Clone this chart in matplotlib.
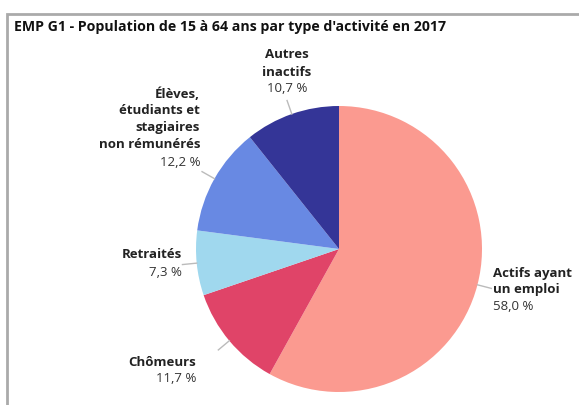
import matplotlib
matplotlib.use("Agg")
import matplotlib.pyplot as plt
import numpy as np
from matplotlib.patches import Rectangle

title = "EMP G1 - Population de 15 à 64 ans par type d'activité en 2017"
categories = [["Actifs ayant", "un emploi"], ["Chômeurs"], ["Retraités"],
              ["Élèves,", "étudiants et", "stagiaires", "non rémunérés"],
              ["Autres", "inactifs"]]
values = [58.0, 11.7, 7.3, 12.2, 10.7]
value_labels = ["58,0 %", "11,7 %", "7,3 %", "12,2 %", "10,7 %"]
colors = ["#FB9A90", "#E04468", "#A0D8EE", "#6889E3", "#343597"]

plt.rcParams['font.family'] = ['Open Sans', 'DejaVu Sans']

W, H = 579, 405
fig = plt.figure(figsize=(W / 100, H / 100), dpi=100)
ax = fig.add_axes([0, 0, 1, 1])
cx, cy, R = 339, 249, 143

wedges, _ = ax.pie(values, colors=colors, startangle=90, counterclock=False,
                   radius=1, center=(0, 0), frame=True,
                   wedgeprops=dict(linewidth=0))
ax.set_xlim(-cx / R, (W - cx) / R)
ax.set_ylim(-(H - cy) / R, cy / R)
ax.set_aspect('equal')
ax.axis('off')

# frame border (left and top)
fig.patches.append(Rectangle((7 / W, -0.1), 1.2, (H - 14) / H + 0.1,
                             transform=fig.transFigure, fill=False,
                             edgecolor="#AAAAAA", linewidth=2))
fig.text(14 / W, 1 - 27 / H, title, fontsize=10.2, fontweight='bold',
         va='center', ha='left', color='#111111')

# label layout: (text x, first line y in pixels, ha)
layout = [
    (493, 273, 'left'),
    (196, 362, 'right'),
    (182, 255, 'right'),
    (200, 94, 'right'),
    (287, 55, 'center'),
]
step = 17
for w, cat, vl, (tx, ty, ha) in zip(wedges, categories, value_labels, layout):
    ang = np.deg2rad((w.theta1 + w.theta2) / 2)
    x0, y0 = np.cos(ang), np.sin(ang)
    ax.plot([x0, 1.1 * x0], [y0, 1.1 * y0], color='#BBBBBB', lw=1)
    X = (tx - cx) / R
    for i, line in enumerate(cat):
        Y = (cy - (ty + i * step)) / R
        ax.text(X, Y, line, ha=ha, va='center', fontsize=9.5,
                fontweight='bold', color='#222222')
    Y = (cy - (ty + len(cat) * step)) / R
    ax.text(X, Y, vl, ha=ha, va='center', fontsize=9.5, color='#333333')

fig.savefig("out.png", dpi=100)
